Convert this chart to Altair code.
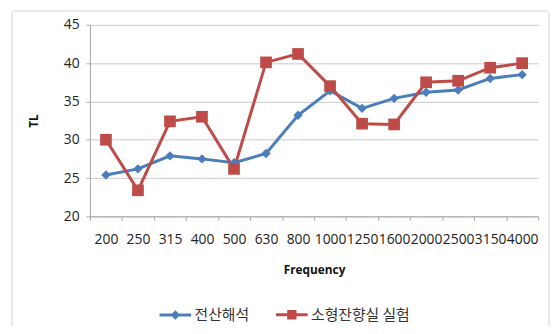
import altair as alt
import pandas as pd

freqs = ["200", "250", "315", "400", "500", "630", "800", "1000", "1250", "1600", "2000", "2500", "3150", "4000"]
sim = [25.4, 26.2, 27.9, 27.5, 27.0, 28.2, 33.2, 36.4, 34.1, 35.4, 36.2, 36.5, 38.0, 38.5]
exp = [30.0, 23.4, 32.4, 33.0, 26.2, 40.1, 41.2, 37.0, 32.1, 32.0, 37.5, 37.7, 39.4, 40.0]
series = ["전산해석", "소형잔향실 실험"]
colors = ["#4A7EBB", "#BE4B48"]
y_ticks = [20, 25, 30, 35, 40, 45]

rows = []
for name, vals in zip(series, [sim, exp]):
    for i, (f, v) in enumerate(zip(freqs, vals)):
        rows.append({"freq": f, "pos": i + 0.5, "TL": v, "series": name})
df = pd.DataFrame(rows)

FONT = "Noto Sans CJK KR"
NUMFONT = "Open Sans"
label_arr = "[" + ",".join("'%s'" % f for f in freqs) + "]"
label_expr = "datum.value < %d ? %s[datum.value] : ''" % (len(freqs), label_arr)

x_enc = alt.X(
    "pos:Q",
    scale=alt.Scale(domain=[0, len(freqs)], nice=False, zero=False),
    axis=alt.Axis(
        title="Frequency", values=list(range(len(freqs) + 1)), labelExpr=label_expr,
        labelOffset=454 / len(freqs) / 2, labelOverlap=False, labelFlush=False, grid=False,
        tickSize=4, labelPadding=12, labelFontSize=14, labelFont=NUMFONT, labelColor="#222222",
        domainColor="#A6A6A6", tickColor="#A6A6A6",
        titleFont=NUMFONT, titleFontSize=12, titleFontWeight="bold", titleColor="#111111",
        titleY=54, titleBaseline="middle",
    ),
)
y_enc = alt.Y(
    "TL:Q",
    scale=alt.Scale(domain=[20, 45], nice=False, zero=False),
    axis=alt.Axis(
        title="TL", values=y_ticks, grid=True, gridColor="#C8C8C8",
        tickSize=4, labelPadding=7, labelFontSize=14, labelFont=NUMFONT, labelColor="#222222",
        domainColor="#A6A6A6", tickColor="#A6A6A6",
        titleFont=NUMFONT, titleFontSize=12, titleFontWeight="bold", titleColor="#111111",
        titleX=-57, titleY=97, titleBaseline="middle", titleAlign="center",
    ),
)

color_scale = alt.Scale(domain=series, range=colors)
legend_paths = [
    "M-1,0H1M0,-0.17L0.17,0L0,0.17L-0.17,0Z",
    "M-1,0H1M-0.2,-0.2H0.2V0.2H-0.2Z",
]

legend = alt.Legend(
    title=None, orient="none", legendX=69, legendY=276, direction="horizontal",
    labelFont=FONT, labelFontSize=15, labelColor="#333333", symbolSize=1024,
    columnPadding=20, labelOffset=2, symbolStrokeWidth=3, symbolOpacity=1,
)

frame = alt.Chart(pd.DataFrame({"a": [0]})).mark_rect(
    fill=None, stroke="#D0D0D0", strokeWidth=1, cornerRadius=3
).encode(x=alt.value(-79), x2=alt.value(465), y=alt.value(-14), y2=alt.value(340))

base = alt.Chart(df)

legend_layer = base.mark_point(filled=True, size=1024, strokeWidth=3).encode(
    x=alt.value(-2000), y=alt.value(-2000),
    color=alt.Color("series:N", scale=color_scale, legend=legend),
    stroke=alt.Stroke("series:N", scale=color_scale, legend=legend),
    shape=alt.Shape("series:N", scale=alt.Scale(domain=series, range=legend_paths), legend=legend),
)

lines = base.mark_line(strokeWidth=3).encode(
    x=x_enc, y=y_enc,
    color=alt.Color("series:N", scale=color_scale, legend=None),
    detail="series:N",
)

pts_sim = base.transform_filter(alt.datum.series == series[0]).mark_point(
    filled=True, opacity=1, shape="diamond", size=90, strokeWidth=1
).encode(x=x_enc, y=y_enc, color=alt.Color("series:N", scale=color_scale, legend=None))

pts_exp = base.transform_filter(alt.datum.series == series[1]).mark_point(
    filled=True, opacity=1, shape="square", size=140, strokeWidth=1
).encode(x=x_enc, y=y_enc, color=alt.Color("series:N", scale=color_scale, legend=None))

chart = alt.layer(legend_layer, frame, lines, pts_sim, pts_exp).properties(
    width=454, height=194,
    padding={"left": 83, "top": 15, "right": 14, "bottom": 109},
    autosize=alt.AutoSizeParams(type="none"),
    background="white",
).configure_view(stroke=None)

chart.save("out.html", embed_options={"renderer": "svg", "actions": False})
